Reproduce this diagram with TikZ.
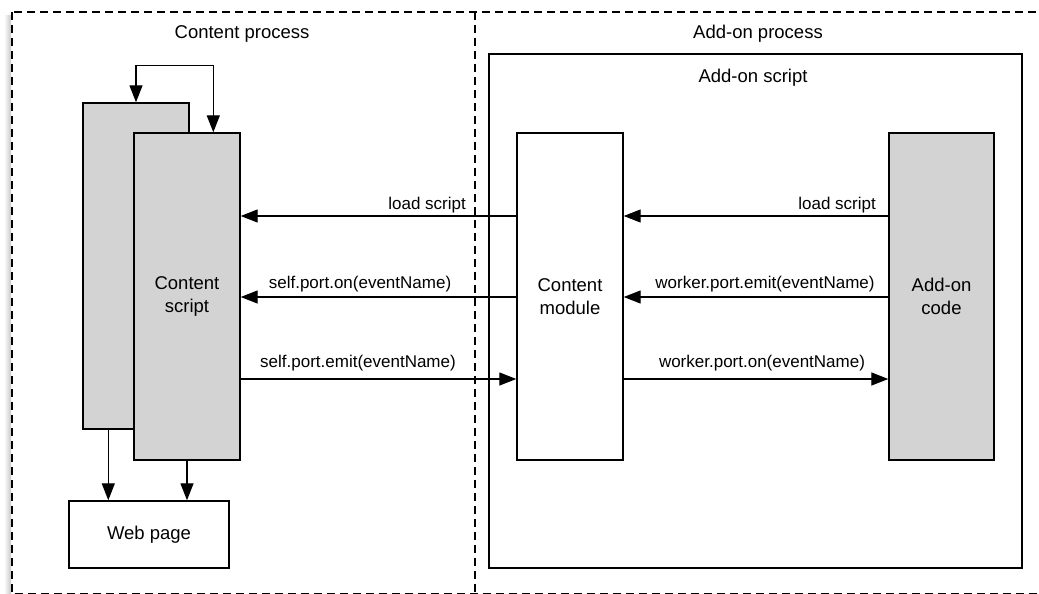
\documentclass[tikz,border=0pt]{standalone}
\usepackage{fontspec}
\setmainfont{Liberation Sans}
\usetikzlibrary{arrows.meta,calc}
\definecolor{boxgray}{HTML}{D3D3D3}
\tikzset{
  box/.style={draw=black, line width=1.4pt, rectangle, inner sep=0pt, align=center,
    font=\fontsize{18.5}{23}\selectfont},
  graybox/.style={box, fill=boxgray},
  whitebox/.style={box, fill=white},
  arr/.style={line width=1.3pt, -{Triangle[length=17pt,width=13pt]}},
  dualarr/.style={line width=1.3pt, {Triangle[length=17pt,width=13pt]}-{Triangle[length=17pt,width=13pt]}},
  lbl/.style={font=\fontsize{17}{20}\selectfont, inner sep=0pt},
  title/.style={font=\fontsize{18.5}{22}\selectfont, inner sep=0pt},
  frame/.style={line width=1.4pt, dash pattern=on 8pt off 5pt},
}
\begin{document}
\begin{tikzpicture}[x=1pt,y=-1pt]
\useasboundingbox (0,0) rectangle (1039,594);
\clip (0,0) rectangle (1039,594);
\fill[white] (0,0) rectangle (1039,594);
% faint shadow at left
\shade[left color=white, right color=black!22] (4,16) rectangle (11,594);
% outer frame and divider
\draw[frame] (12,12) rectangle (1047,594);
\draw[line width=1.2pt, dash pattern=on 8pt off 5pt] (475,12) -- (475,594);
\node[title, anchor=base] (cp) at (242,39) {Content process};
\node[title, anchor=base] (ap) at (758,39) {Add-on process};
% add-on script container
\node[box, minimum width=533pt, minimum height=514pt] (as) at (755.5,311) {};
\node[title, anchor=base] (ast) at (753,82) {Add-on script};
% content scripts
\node[graybox, minimum width=106pt, minimum height=326pt] (bs) at (136,266) {};
\node[graybox, minimum width=106pt, minimum height=327pt] (fs) at (187,296.5) {Content\\script};
\node[whitebox, minimum width=160pt, minimum height=67pt] (wp) at (149,534.5) {Web page};
\node[whitebox, minimum width=106pt, minimum height=327pt] (cm) at (570,296.5) {Content\\module};
\node[graybox, minimum width=105pt, minimum height=327pt] (ac) at (941.5,296.5) {Add-on\\code};
% self loop
\coordinate (fsin) at ($(fs.north west)+(80,0)$);
\draw[dualarr] (bs.north) -- ++(0,-37) -| (fsin);
% to web page
\coordinate (bsout) at ($(bs.south west)+(26,0)$);
\draw[arr] (bsout) -- (wp.north -| bsout);
\draw[arr] (fs.south) -- (wp.north -| fs.south);
% rows
\coordinate (r1) at (0,216);
\coordinate (r2) at (0,297);
\coordinate (r3) at (0,379);
\draw[arr] (cm.west |- r1) -- (fs.east |- r1);
\draw[arr] (cm.west |- r2) -- (fs.east |- r2);
\draw[arr] (fs.east |- r3) -- (cm.west |- r3);
\draw[arr] (ac.west |- r1) -- (cm.east |- r1);
\draw[arr] (ac.west |- r2) -- (cm.east |- r2);
\draw[arr] (cm.east |- r3) -- (ac.west |- r3);
% labels
\node[lbl, anchor=base east] (l1) at (466,209) {load script};
\node[lbl, anchor=base] (l2) at (360,288) {self.port.on(eventName)};
\node[lbl, anchor=base] (l3) at (358,367) {self.port.emit(eventName)};
\node[lbl, anchor=base east] (l4) at (876,209) {load script};
\node[lbl, anchor=base] (l5) at (765,288) {worker.port.emit(eventName)};
\node[lbl, anchor=base] (l6) at (762,367) {worker.port.on(eventName)};
\end{tikzpicture}
\end{document}
